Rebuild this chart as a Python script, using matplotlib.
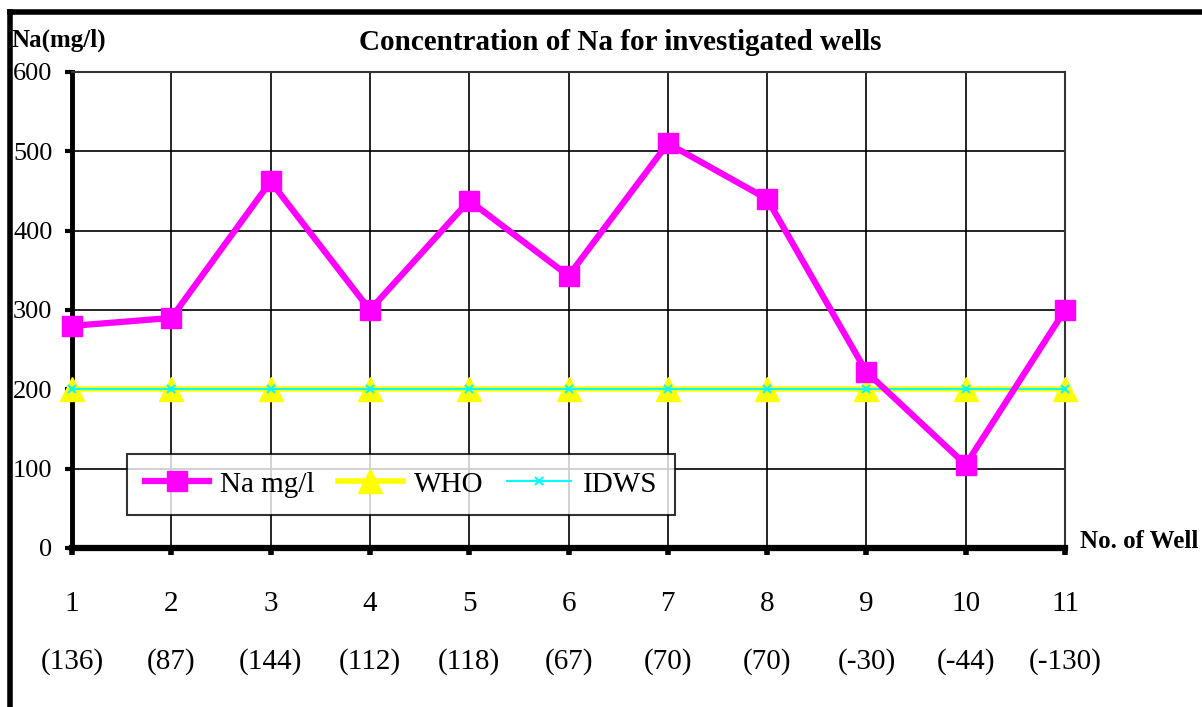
import matplotlib.pyplot as plt
from matplotlib.lines import Line2D

wells = [1, 2, 3, 4, 5, 6, 7, 8, 9, 10, 11]
well_codes = ['(136)', '(87)', '(144)', '(112)', '(118)', '(67)', '(70)', '(70)', '(-30)', '(-44)', '(-130)']
na = [280, 290, 462, 300, 438, 343, 510, 440, 222, 105, 300]
who = [200] * 11
idws = [200] * 11

plt.rcParams['font.family'] = ['Liberation Serif', 'DejaVu Serif']

fig = plt.figure(figsize=(12.02, 7.07), dpi=100)
W, H = 1202, 707
ax = fig.add_axes([72 / W, (H - 548) / H, (1065 - 72) / W, (548 - 72) / H])

ax.plot(wells, na, color='#FF00FF', lw=4.5, marker='s', ms=14.5, mec='#FF00FF', label='Na mg/l',
        zorder=5, clip_on=False)
ax.plot(wells, who, color='#FFFF00', lw=4, marker='^', ms=17, mec='#FFFF00', label='WHO',
        zorder=3, clip_on=False)
ax.plot(wells, idws, color='#00FFFF', lw=1.5, marker='x', ms=6, mew=1.5, label='IDWS',
        zorder=4, clip_on=False)

ax.set_xlim(1, 11)
ax.set_ylim(0, 600)
ax.set_xticks(wells)
ax.set_xticklabels([str(w) for w in wells], fontsize=21)
ax.set_yticks(range(0, 601, 100))
ax.tick_params(axis='y', labelsize=19, direction='out', length=5, width=3, pad=9)
ax.tick_params(axis='x', direction='out', length=5, width=4, pad=26)
ax.grid(True, color='black', lw=1.2)
ax.set_axisbelow(True)

ax.spines['left'].set_linewidth(3.5)
ax.spines['bottom'].set_linewidth(4.5)
for s in ['top', 'right']:
    ax.spines[s].set_linewidth(1.5)
    ax.spines[s].set_color('#333333')

for w, c in zip(wells, well_codes):
    ax.annotate(c, xy=(w, 0), xycoords=('data', 'axes fraction'), xytext=(0, -114),
                textcoords='offset pixels', ha='center', va='center', fontsize=21)

leg = ax.legend(loc='lower left', bbox_to_anchor=((127 - 72) / (1065 - 72), (548 - 515) / (548 - 72),
                                                   (675 - 127) / (1065 - 72), (515 - 437) / (548 - 72)),
                mode='expand', ncol=3, fontsize=21, frameon=True, fancybox=False,
                edgecolor='black', borderpad=0.6, handlelength=2.2, handletextpad=0.4,
                columnspacing=1.8, borderaxespad=0)
leg.get_frame().set_linewidth(1.5)
leg.set_zorder(10)

fig.text(620 / W, 1 - 42 / H, 'Concentration of Na for investigated wells', ha='center', va='center',
         fontsize=21, fontweight='bold')
fig.text(12 / W, 1 - 40 / H, 'Na(mg/l)', ha='left', va='center', fontsize=18, fontweight='bold')
fig.text(1080 / W, 1 - 541 / H, 'No. of Well', ha='left', va='center', fontsize=18, fontweight='bold')

# outer frame (left and top)
fig.add_artist(Line2D([10 / W, 10 / W], [0, 1 - 12 / H], color='black', lw=4, transform=fig.transFigure))
fig.add_artist(Line2D([10 / W, 1], [1 - 12 / H, 1 - 12 / H], color='black', lw=4, transform=fig.transFigure))

fig.savefig('out.png', dpi=100)
